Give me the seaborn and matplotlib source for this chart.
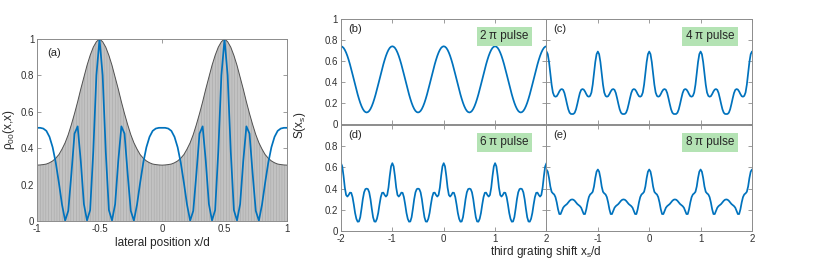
import numpy as np
import matplotlib
matplotlib.use("Agg")
import matplotlib.pyplot as plt
import seaborn as sns

# panel (a): one period (x = 0 .. 0.975, step 0.025)
rho_period = [0.512, 0.512, 0.508, 0.495, 0.462, 0.405, 0.320, 0.210, 0.090, 0.002,
              0.056, 0.260, 0.480, 0.520, 0.330, 0.093, 0.003, 0.060, 0.380, 0.800,
              1.000, 0.800, 0.380, 0.060, 0.003, 0.093, 0.330, 0.520, 0.480, 0.260,
              0.056, 0.002, 0.090, 0.210, 0.320, 0.405, 0.462, 0.495, 0.508, 0.512]
env_period = [0.307, 0.308, 0.310, 0.313, 0.320, 0.330, 0.345, 0.365, 0.395, 0.430,
              0.475, 0.530, 0.590, 0.655, 0.725, 0.790, 0.855, 0.910, 0.955, 0.985,
              1.000, 0.985, 0.955, 0.910, 0.855, 0.790, 0.725, 0.655, 0.590, 0.530,
              0.475, 0.430, 0.395, 0.365, 0.345, 0.330, 0.320, 0.313, 0.310, 0.308]

# panels (b)-(e): one period of S(xs), xs = 0 .. 0.975 step 0.025
s_2pi = [0.740, 0.736, 0.725, 0.706, 0.680, 0.648, 0.610, 0.568, 0.522, 0.474,
         0.425, 0.376, 0.328, 0.282, 0.240, 0.202, 0.170, 0.144, 0.125, 0.114,
         0.110, 0.114, 0.125, 0.144, 0.170, 0.202, 0.240, 0.282, 0.328, 0.376,
         0.425, 0.474, 0.522, 0.568, 0.610, 0.648, 0.680, 0.706, 0.725, 0.736]
s_4pi = [0.690, 0.665, 0.590, 0.480, 0.375, 0.300, 0.268, 0.260, 0.265, 0.285,
         0.310, 0.328, 0.333, 0.325, 0.295, 0.245, 0.190, 0.140, 0.108, 0.096,
         0.095, 0.096, 0.108, 0.140, 0.190, 0.245, 0.295, 0.325, 0.333, 0.328,
         0.310, 0.285, 0.265, 0.260, 0.268, 0.300, 0.375, 0.480, 0.590, 0.665]
s_6pi = [0.640, 0.610, 0.520, 0.410, 0.340, 0.325, 0.340, 0.362, 0.360, 0.320,
         0.250, 0.170, 0.115, 0.088, 0.090, 0.130, 0.210, 0.300, 0.365, 0.395,
         0.400, 0.395, 0.365, 0.300, 0.210, 0.130, 0.090, 0.088, 0.115, 0.170,
         0.250, 0.320, 0.360, 0.362, 0.340, 0.325, 0.340, 0.410, 0.520, 0.610]
s_8pi = [0.580, 0.560, 0.500, 0.420, 0.370, 0.355, 0.345, 0.320, 0.270, 0.205,
         0.160, 0.160, 0.190, 0.220, 0.235, 0.245, 0.255, 0.270, 0.285, 0.295,
         0.298, 0.295, 0.285, 0.270, 0.255, 0.245, 0.235, 0.220, 0.190, 0.160,
         0.160, 0.205, 0.270, 0.320, 0.345, 0.355, 0.370, 0.420, 0.500, 0.560]

panel_tags = ["(b)", "(c)", "(d)", "(e)"]
pulse_names = ["2\u2009\u03c0 pulse", "4\u2009\u03c0 pulse", "6\u2009\u03c0 pulse", "8\u2009\u03c0 pulse"]

sns.set_style("ticks")
plt.rcParams["font.family"] = ["Liberation Sans", "DejaVu Sans"]
plt.rcParams["hatch.linewidth"] = 0.4

blue = "#0072BD"
edge = "#8c8c8c"
tickc = "#303030"


def periodic(vals, n):
    # repeat the read-off period n times and close the last point
    v = list(vals) * n
    return np.array(v + [vals[0]])


def style(ax):
    for s in ax.spines.values():
        s.set_color(edge)
        s.set_linewidth(0.7)
        s.set_visible(True)
    ax.tick_params(direction="in", length=3, width=0.6, color=edge,
                   labelcolor=tickc, labelsize=7, top=True, right=True, pad=2)


fig = plt.figure(figsize=(8.3, 2.6), dpi=100)

# ---- panel (a)
xa = np.linspace(-1, 1, 81)
rho = periodic(rho_period, 2)
env = periodic(env_period, 2)
ax = fig.add_axes([0.0446, 0.15, 0.3012, 0.70])
ax.fill_between(xa, 0, env, facecolor="#c2c2c2", edgecolor="#a8a8a8",
                hatch="||||||", linewidth=0)
sns.lineplot(x=xa, y=env, ax=ax, color="#505050", lw=0.7)
sns.lineplot(x=xa, y=rho, ax=ax, color=blue, lw=1.25)
ax.set_xlim(-1, 1)
ax.set_ylim(0, 1)
ax.set_xticks([-1, -0.5, 0, 0.5, 1])
ax.set_xticklabels(["-1", "-0.5", "0", "0.5", "1"])
ax.set_yticks([0, 0.2, 0.4, 0.6, 0.8, 1])
ax.set_yticklabels(["0", "0.2", "0.4", "0.6", "0.8", "1"])
style(ax)
ax.set_xlabel("lateral position x/d", fontsize=8.5, labelpad=2)
ax.set_ylabel("\u03c1$_{\\mathregular{00}}$(x,x)", fontsize=8.5, labelpad=3)
ax.text(0.04, 0.95, "(a)", transform=ax.transAxes, fontsize=8, va="top")

# ---- panels (b)-(e)
xs = np.linspace(-2, 2, 161)
curves = [s_2pi, s_4pi, s_6pi, s_8pi]
left0, w = 0.4108, 0.2476
rows = [(0.5230, 0.4040), (0.1115, 0.4077)]
for i, vals in enumerate(curves):
    r, c = divmod(i, 2)
    ax = fig.add_axes([left0 + c * w, rows[r][0], w, rows[r][1]])
    sns.lineplot(x=xs, y=periodic(vals, 4), ax=ax, color=blue, lw=1.25)
    ax.set_xlim(-2, 2)
    ax.set_ylim(0, 1)
    ax.set_xticks([-2, -1, 0, 1, 2])
    ax.set_yticks([0, 0.2, 0.4, 0.6, 0.8, 1])
    if r == 1:
        ax.set_xticklabels(["-2" if c == 0 else "", "-1", "0", "1", "2"])
    else:
        ax.set_xticklabels([])
    if c == 0:
        ax.set_yticklabels(["0", "0.2", "0.4", "0.6", "0.8", "1" if r == 0 else ""])
    else:
        ax.set_yticklabels([])
    style(ax)
    ax.text(0.035, 0.95, panel_tags[i], transform=ax.transAxes, fontsize=8, va="top")
    ax.text(0.795, 0.835, pulse_names[i], transform=ax.transAxes, fontsize=8.5,
            ha="center", va="center",
            bbox=dict(boxstyle="square,pad=0.3", fc="#b4e3b4", ec="none"))

fig.text(0.362, 0.52, "S(x$_{\\mathregular{s}}$)", rotation=90, fontsize=8.5,
         ha="center", va="center")
fig.text(0.658, 0.03, "third grating shift x$_{\\mathregular{s}}$/d", fontsize=8.5,
         ha="center", va="center")

fig.savefig("out.png", dpi=100)
